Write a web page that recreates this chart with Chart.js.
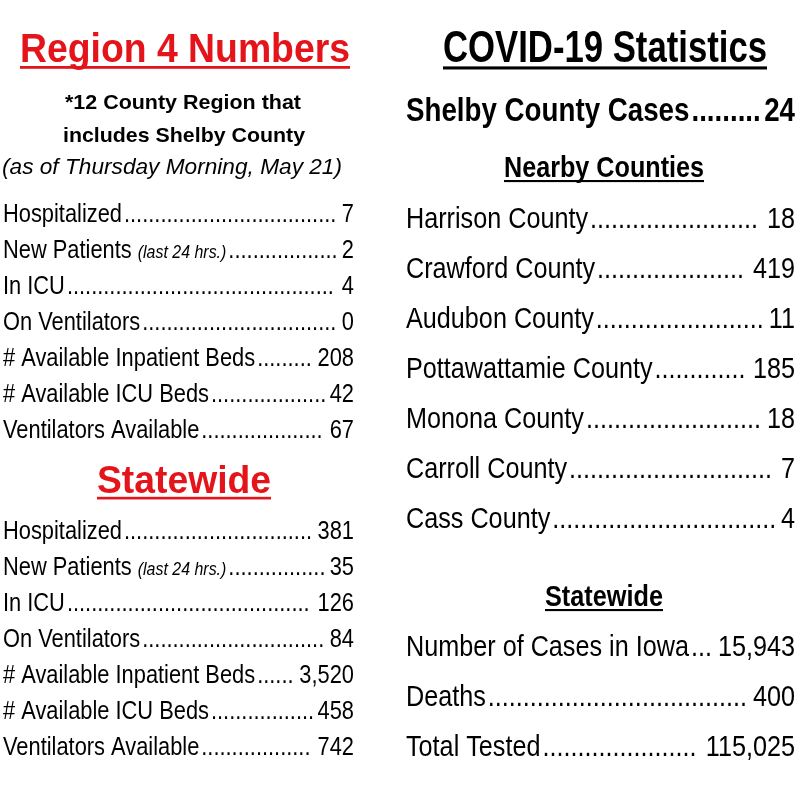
<!doctype html>
<html lang="en">
  <head>
    <script src="https://cdnjs.cloudflare.com/ajax/libs/Chart.js/4.4.1/chart.umd.min.js"></script>
    <title>Region 4 Numbers</title>
    <style>body{margin:0;background:#fff}</style>
  </head>
  <body>
    <canvas id="statsChart" width="800" height="800"></canvas>
  <script>
    // region 4 (left top)
    const regionLabels = ['Hospitalized', 'New Patients|(last 24 hrs.)', 'In ICU', 'On Ventilators', '# Available Inpatient Beds', '# Available ICU Beds', 'Ventilators Available'];
    const regionValues = ['7', '2', '4', '0', '208', '42', '67'];
    // statewide (left bottom)
    const stateLabels = regionLabels;
    const stateValues = ['381', '35', '126', '84', '3,520', '458', '742'];
    // nearby counties (right)
    const countyLabels = ['Harrison County', 'Crawford County', 'Audubon County', 'Pottawattamie County', 'Monona County', 'Carroll County', 'Cass County'];
    const countyValues = ['18', '419', '11', '185', '18', '7', '4'];
    const iowaLabels = ['Number of Cases in Iowa', 'Deaths', 'Total Tested'];
    const iowaValues = ['15,943', '400', '115,025'];
    const shelbyCases = '24';

    const FONT = '"Liberation Sans", Arial, sans-serif';
    const SQ = 0.84; // squash factor to mimic a narrow face

    // draw text horizontally squashed by s, align left/center/right
    function sText(ctx, text, x, y, s, align) {
        const w = ctx.measureText(text).width * s;
        let left = x;
        if (align === 'center') left = x - w / 2;
        if (align === 'right') left = x - w;
        ctx.save();
        ctx.translate(left, y);
        ctx.scale(s, 1);
        ctx.textAlign = 'left';
        ctx.fillText(text, 0, 0);
        ctx.restore();
        return w;
    }

    function fitText(ctx, text, cx, y, font, width, color) {
        ctx.font = font;
        ctx.fillStyle = color;
        const s = width / ctx.measureText(text).width;
        sText(ctx, text, cx, y, s, 'center');
    }

    function title(ctx, text, cx, y, size, width, color) {
        fitText(ctx, text, cx, y, 'bold ' + size + 'px ' + FONT, width, color);
        ctx.fillRect(cx - width / 2, y + size * 0.1, width, Math.max(2, size * 0.07));
    }

    function row(ctx, label, value, x1, x2, y, size, bold) {
        ctx.fillStyle = '#000';
        const f = (bold ? 'bold ' : '') + size + 'px ' + FONT;
        ctx.font = f;
        const parts = label.split('|');
        let x = x1;
        x += sText(ctx, parts[0], x, y, SQ, 'left');
        if (parts[1]) {
            ctx.font = 'italic ' + Math.round(size * 0.74) + 'px ' + FONT;
            x += 6;
            x += sText(ctx, parts[1], x, y, SQ, 'left');
            ctx.font = f;
        }
        const vw = sText(ctx, value, x2, y, SQ, 'right');
        const end = x2 - vw - 3;
        const dw = ctx.measureText('.').width * SQ;
        let dots = '';
        while ((dots.length + 1) * dw < end - x - 2) dots += '.';
        sText(ctx, dots, x + 2, y, SQ, 'left');
    }

    const textPlugin = {
        id: 'textPlugin',
        afterDraw(chart) {
            const ctx = chart.ctx;
            ctx.save();
            ctx.textBaseline = 'alphabetic';
            title(ctx, 'Region 4 Numbers', 185, 62, 40, 330, '#e4141b');
            fitText(ctx, '*12 County Region that', 183, 109, 'bold 21px ' + FONT, 236, '#000');
            fitText(ctx, 'includes Shelby County', 184, 142, 'bold 21px ' + FONT, 242, '#000');
            fitText(ctx, '(as of Thursday Morning, May 21)', 172, 174, 'italic 22px ' + FONT, 340, '#000');
            regionLabels.forEach((l, i) => row(ctx, l, regionValues[i], 3, 354, 222 + i * 36, 26));
            title(ctx, 'Statewide', 184, 493, 38, 174, '#e4141b');
            stateLabels.forEach((l, i) => row(ctx, l, stateValues[i], 3, 354, 539 + i * 36, 26));

            title(ctx, 'COVID-19 Statistics', 605, 62, 44, 324, '#000');
            row(ctx, 'Shelby County Cases', shelbyCases, 406, 795, 121, 33, true);
            title(ctx, 'Nearby Counties', 604, 177, 30, 200, '#000');
            countyLabels.forEach((l, i) => row(ctx, l, countyValues[i], 406, 795, 228 + i * 50, 30));
            title(ctx, 'Statewide', 604, 606, 30, 118, '#000');
            iowaLabels.forEach((l, i) => row(ctx, l, iowaValues[i], 406, 795, 656 + i * 50, 30));
            ctx.restore();
        }
    };

    new Chart(document.getElementById('statsChart'), {
        type: 'bar',
        data: { labels: [], datasets: [{ data: [] }] },
        options: {
            responsive: false,
            devicePixelRatio: 1,
            animation: false,
            plugins: { legend: { display: false }, tooltip: { enabled: false } },
            scales: { x: { display: false }, y: { display: false } }
        },
        plugins: [textPlugin]
    });
  </script>
  </body>
</html>
